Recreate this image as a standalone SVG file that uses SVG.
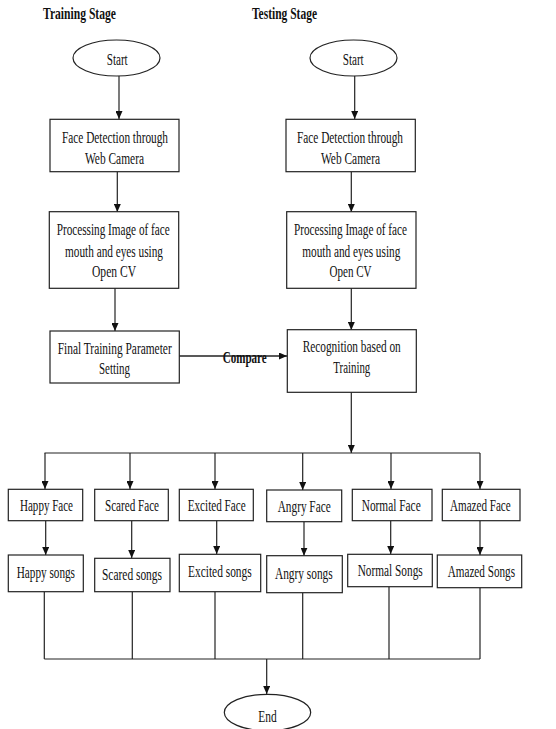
<svg xmlns="http://www.w3.org/2000/svg" width="556" height="729" viewBox="0 0 556 729">
<style>
.b{fill:#fff;stroke:#222;stroke-width:1.2}
.c{fill:none;stroke:#222;stroke-width:1.2}
.a{marker-end:url(#ah)}
text{font-family:"Liberation Serif","Times New Roman",serif;font-size:16px;fill:#111}
.t{font-weight:bold}
</style>
<defs>
<marker id="ah" markerUnits="userSpaceOnUse" markerWidth="9" markerHeight="7" refX="8" refY="3.5" orient="auto">
<path d="M0,0 L8,3.5 L0,7 z" fill="#111"/>
</marker>
</defs>
<rect width="556" height="729" fill="#fff"/>
<g id="titles">
<text class="t" x="43" y="19" textLength="73" lengthAdjust="spacingAndGlyphs">Training Stage</text>
<text class="t" x="252" y="19" textLength="65" lengthAdjust="spacingAndGlyphs">Testing Stage</text>
</g>
<g id="connectors">
<line class="c a" x1="119" y1="76" x2="119" y2="119"/>
<line class="c a" x1="354.7" y1="76" x2="354.7" y2="119"/>
<line class="c a" x1="117.3" y1="172" x2="117.3" y2="212"/>
<line class="c a" x1="351.3" y1="172" x2="351.3" y2="212"/>
<line class="c a" x1="115" y1="288" x2="115" y2="331"/>
<line class="c a" x1="351.3" y1="288" x2="351.3" y2="330"/>
<line class="c a" x1="179" y1="356" x2="287" y2="356" style="stroke-width:1.6"/>
<line class="c a" x1="351.3" y1="392" x2="351.3" y2="453"/>
<line class="c" x1="44.5" y1="453" x2="480" y2="453"/>
<line class="c a" x1="45" y1="453" x2="45" y2="489"/>
<line class="c a" x1="130" y1="453" x2="130" y2="489"/>
<line class="c a" x1="215" y1="453" x2="215" y2="489"/>
<line class="c a" x1="302.7" y1="453" x2="302.7" y2="490"/>
<line class="c a" x1="391" y1="453" x2="391" y2="489"/>
<line class="c a" x1="480" y1="453" x2="480" y2="489"/>
<line class="c a" x1="45.7" y1="521" x2="45.7" y2="555"/>
<line class="c a" x1="131.7" y1="521" x2="131.7" y2="558"/>
<line class="c a" x1="216.7" y1="521" x2="216.7" y2="554"/>
<line class="c a" x1="304" y1="522" x2="304" y2="555.7"/>
<line class="c a" x1="390.7" y1="521" x2="390.7" y2="554"/>
<line class="c a" x1="480" y1="521" x2="480" y2="555"/>
<line class="c" x1="44.3" y1="592" x2="44.3" y2="659"/>
<line class="c" x1="132.3" y1="592" x2="132.3" y2="659"/>
<line class="c" x1="215" y1="592" x2="215" y2="659"/>
<line class="c" x1="302.7" y1="593" x2="302.7" y2="659"/>
<line class="c" x1="389" y1="587" x2="389" y2="659"/>
<line class="c" x1="480" y1="588" x2="480" y2="659"/>
<line class="c" x1="44.3" y1="659" x2="480" y2="659"/>
<line class="c a" x1="266.7" y1="659" x2="266.7" y2="694"/>
</g>
<g id="compare-label">
<text class="t" x="222.7" y="362.5" textLength="44" lengthAdjust="spacingAndGlyphs">Compare</text>
</g>
<g id="start-train">
<ellipse class="b" cx="116.5" cy="58" rx="43.5" ry="18"/>
<text x="106.7" y="65" textLength="21" lengthAdjust="spacingAndGlyphs">Start</text>
</g>
<g id="start-test">
<ellipse class="b" cx="353.5" cy="58" rx="43.5" ry="18"/>
<text x="342.7" y="65" textLength="21" lengthAdjust="spacingAndGlyphs">Start</text>
</g>
<g id="detect-train">
<rect class="b" x="50" y="119.3" width="129" height="52.4"/>
<text x="62" y="142.5" textLength="106" lengthAdjust="spacingAndGlyphs">Face Detection through</text>
<text x="85" y="163.5" textLength="59" lengthAdjust="spacingAndGlyphs">Web Camera</text>
</g>
<g id="detect-test">
<rect class="b" x="286" y="119.3" width="129.3" height="52.4"/>
<text x="297" y="142.5" textLength="106" lengthAdjust="spacingAndGlyphs">Face Detection through</text>
<text x="321" y="163.5" textLength="59" lengthAdjust="spacingAndGlyphs">Web Camera</text>
</g>
<g id="process-train">
<rect class="b" x="49.3" y="211.7" width="129.4" height="76.6"/>
<text x="56.7" y="235" textLength="113" lengthAdjust="spacingAndGlyphs">Processing Image of face</text>
<text x="65" y="256.5" textLength="98" lengthAdjust="spacingAndGlyphs">mouth and eyes using</text>
<text x="92" y="277" textLength="44" lengthAdjust="spacingAndGlyphs">Open CV</text>
</g>
<g id="process-test">
<rect class="b" x="286.7" y="211.7" width="129.3" height="76.6"/>
<text x="294" y="235" textLength="113" lengthAdjust="spacingAndGlyphs">Processing Image of face</text>
<text x="302.3" y="256.5" textLength="98" lengthAdjust="spacingAndGlyphs">mouth and eyes using</text>
<text x="329.5" y="277" textLength="42" lengthAdjust="spacingAndGlyphs">Open CV</text>
</g>
<g id="final-train">
<rect class="b" x="50" y="331" width="129.3" height="52"/>
<text x="57.7" y="354" textLength="114" lengthAdjust="spacingAndGlyphs">Final Training Parameter</text>
<text x="99" y="374" textLength="31" lengthAdjust="spacingAndGlyphs">Setting</text>
</g>
<g id="recognition">
<rect class="b" x="287.3" y="329.7" width="129" height="62.6"/>
<text x="302.7" y="352.3" textLength="98" lengthAdjust="spacingAndGlyphs">Recognition based on</text>
<text x="333.3" y="373" textLength="37" lengthAdjust="spacingAndGlyphs">Training</text>
</g>
<g id="happy-face">
<rect class="b" x="8.3" y="489.3" width="74.4" height="31.4"/>
<text x="20" y="510.5" textLength="53" lengthAdjust="spacingAndGlyphs">Happy Face</text>
</g>
<g id="scared-face">
<rect class="b" x="94.7" y="489.3" width="73.6" height="31.4"/>
<text x="105" y="510.5" textLength="54" lengthAdjust="spacingAndGlyphs">Scared Face</text>
</g>
<g id="excited-face">
<rect class="b" x="179.3" y="489.3" width="74" height="31.4"/>
<text x="187.7" y="510.5" textLength="58" lengthAdjust="spacingAndGlyphs">Excited Face</text>
</g>
<g id="angry-face">
<rect class="b" x="266.7" y="490" width="75" height="31.7"/>
<text x="277.7" y="511.7" textLength="53" lengthAdjust="spacingAndGlyphs">Angry Face</text>
</g>
<g id="normal-face">
<rect class="b" x="352.3" y="489.3" width="79.7" height="31.4"/>
<text x="361.7" y="510.5" textLength="59" lengthAdjust="spacingAndGlyphs">Normal Face</text>
</g>
<g id="amazed-face">
<rect class="b" x="442.3" y="489.3" width="77.7" height="31.4"/>
<text x="450" y="510.5" textLength="60.7" lengthAdjust="spacingAndGlyphs">Amazed Face</text>
</g>
<g id="happy-songs">
<rect class="b" x="8.3" y="555" width="75" height="36.7"/>
<text x="16.7" y="577.7" textLength="58.3" lengthAdjust="spacingAndGlyphs">Happy songs</text>
</g>
<g id="scared-songs">
<rect class="b" x="94.7" y="558.3" width="75.3" height="33.4"/>
<text x="102" y="580" textLength="60" lengthAdjust="spacingAndGlyphs">Scared songs</text>
</g>
<g id="excited-songs">
<rect class="b" x="179.3" y="554.3" width="81.4" height="37.4"/>
<text x="188" y="576.5" textLength="63.7" lengthAdjust="spacingAndGlyphs">Excited songs</text>
</g>
<g id="angry-songs">
<rect class="b" x="266.7" y="555.7" width="75.6" height="37"/>
<text x="275" y="579" textLength="57.7" lengthAdjust="spacingAndGlyphs">Angry songs</text>
</g>
<g id="normal-songs">
<rect class="b" x="347.7" y="554.3" width="84.6" height="32.4"/>
<text x="357.7" y="576" textLength="65" lengthAdjust="spacingAndGlyphs">Normal Songs</text>
</g>
<g id="amazed-songs">
<rect class="b" x="437.3" y="555" width="84.4" height="32.7"/>
<text x="447.7" y="576.7" textLength="67.3" lengthAdjust="spacingAndGlyphs">Amazed Songs</text>
</g>
<g id="end">
<ellipse class="b" cx="267.5" cy="712.5" rx="43.2" ry="18.2"/>
<text x="258.3" y="721.5" textLength="18.4" lengthAdjust="spacingAndGlyphs">End</text>
</g>
</svg>
